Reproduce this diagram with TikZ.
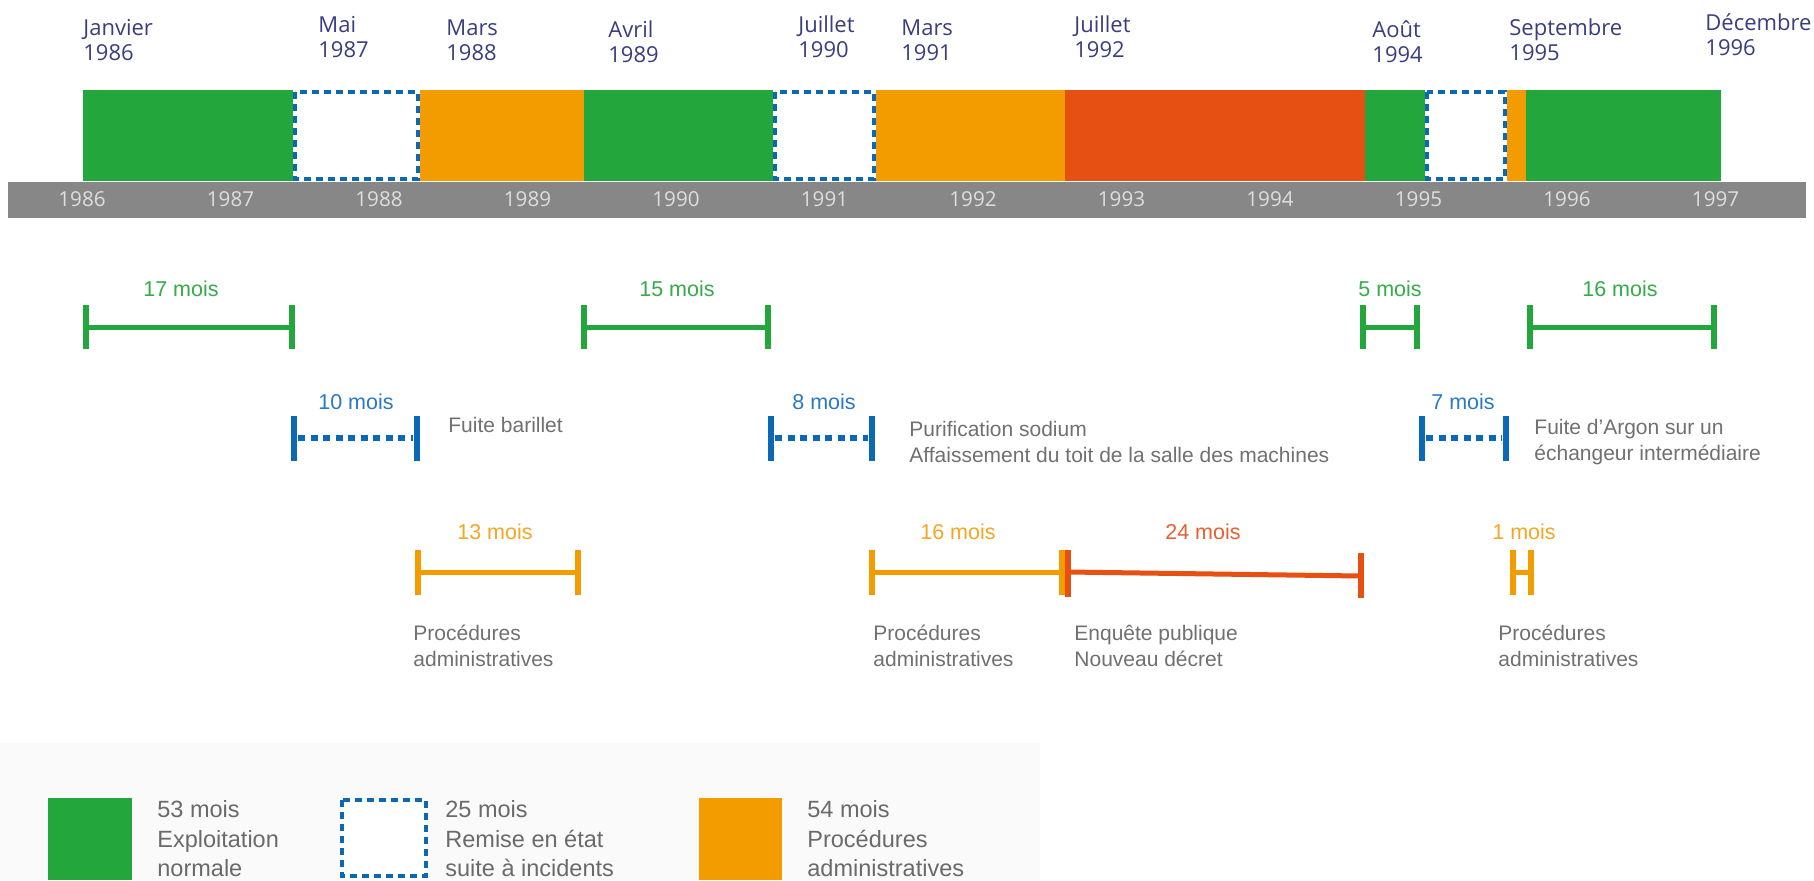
\documentclass[tikz,border=0pt]{standalone}
\usepackage{fontspec}
\setmainfont{Liberation Sans}
\newfontfamily\plexf{Open Sans}
\definecolor{cgreen}{RGB}{35,167,60}
\definecolor{corange}{RGB}{243,156,0}
\definecolor{cred}{RGB}{230,80,18}
\definecolor{cblue}{RGB}{10,104,180}
\definecolor{cband}{RGB}{135,135,135}
\definecolor{cyear}{RGB}{222,222,222}
\definecolor{cnavy}{RGB}{58,62,126}
\definecolor{cdesc}{RGB}{112,112,112}
\definecolor{cleg}{RGB}{106,106,106}
\definecolor{clegbg}{RGB}{250,250,250}
\definecolor{tgreen}{RGB}{52,172,72}
\definecolor{tblue}{RGB}{40,122,196}
\definecolor{torange}{RGB}{245,166,35}
\definecolor{tred}{RGB}{232,96,50}
\begin{document}
\begin{tikzpicture}[x=0.5pt,y=-0.5pt,
  toplab/.style={anchor=west, align=left, inner sep=0pt, text=cnavy, font=\plexf\fontsize{11}{12.5}\selectfont},
  yearlab/.style={inner sep=0pt, text=cyear, font=\plexf\fontsize{10.3}{12}\selectfont},
  moislab/.style={inner sep=0pt, font=\fontsize{10.75}{12}\selectfont},
  desc/.style={anchor=west, align=left, inner sep=0pt, text=cdesc, font=\fontsize{10.5}{13.25}\selectfont},
  legtext/.style={anchor=west, align=left, inner sep=0pt, text=cleg, font=\fontsize{11.75}{14.75}\selectfont},
  spanline/.style={line width=2.5pt},
  tickline/.style={line width=3pt},
  dotspan/.style={line width=3.25pt, draw=cblue, dash pattern=on 3.5pt off 2.75pt},
  dotbox/.style={draw=cblue, line width=2.25pt, dash pattern=on 3.5pt off 2.5pt, fill=white}
]
\useasboundingbox (0,0) rectangle (1814,880);
\fill[white] (0,0) rectangle (1814,880);

% ---------- top date labels ----------
\node[toplab] (d1)  at (83,40)   {Janvier\\1986};
\node[toplab] (d2)  at (318,37)  {Mai\\1987};
\node[toplab] (d3)  at (446,40)  {Mars\\1988};
\node[toplab] (d4)  at (608,42)  {Avril\\1989};
\node[toplab] (d5)  at (798,37)  {Juillet\\1990};
\node[toplab] (d6)  at (901,40)  {Mars\\1991};
\node[toplab] (d7)  at (1074,37) {Juillet\\1992};
\node[toplab] (d8)  at (1372,42) {Août\\1994};
\node[toplab] (d9)  at (1509,40) {Septembre\\1995};
\node[toplab] (d10) at (1705,35) {Décembre\\1996};

% ---------- timeline bar ----------
\fill[cgreen]  (83,90)   rectangle (293,181);
\draw[dotbox]  (295,92)  rectangle (418,179);
\fill[corange] (420,90)  rectangle (584,181);
\fill[cgreen]  (584,90)  rectangle (773,181);
\draw[dotbox]  (775,92)  rectangle (874,179);
\fill[corange] (876,90)  rectangle (1065,181);
\fill[cred]    (1065,90) rectangle (1365,181);
\fill[cgreen]  (1365,90) rectangle (1425,181);
\draw[dotbox]  (1427,92) rectangle (1505,179);
\fill[corange] (1507,90) rectangle (1526,181);
\fill[cgreen]  (1526,90) rectangle (1721,181);

% ---------- year band ----------
\fill[cband] (8,182) rectangle (1806,218);
\foreach \yr [count=\i from 0] in {1986,1987,1988,1989,1990,1991,1992,1993,1994,1995,1996,1997}
  \node[yearlab] (y\yr) at ({82+148.5*\i},199) {\yr};

% ---------- green spans ----------
\foreach \n/\a/\b in {g1/86/292, g2/584/768, g3/1363/1417, g4/1530/1714} {
  \coordinate (\n a) at (\a,327);
  \coordinate (\n b) at (\b,327);
  \draw[spanline, draw=cgreen] (\n a) -- (\n b);
  \draw[tickline, draw=cgreen] (\n a) ++(0,-22) -- ++(0,44);
  \draw[tickline, draw=cgreen] (\n b) ++(0,-22) -- ++(0,44);
}
\node[moislab, text=tgreen] (lg1) at (181,289)  {17 mois};
\node[moislab, text=tgreen] (lg2) at (677,289)  {15 mois};
\node[moislab, text=tgreen] (lg3) at (1390,289) {5 mois};
\node[moislab, text=tgreen] (lg4) at (1620,289) {16 mois};

% ---------- blue spans ----------
\foreach \n/\a/\b in {b1/294/417, b2/771/872, b3/1422/1506} {
  \coordinate (\n a) at (\a,438);
  \coordinate (\n b) at (\b,438);
  \draw[dotspan, shorten <=2pt, shorten >=2pt] (\n a) -- (\n b);
  \draw[tickline, draw=cblue] (\n a) ++(0,-22) -- ++(0,45);
  \draw[tickline, draw=cblue] (\n b) ++(0,-22) -- ++(0,45);
}
\node[moislab, text=tblue] (lb1) at (356,402)  {10 mois};
\node[moislab, text=tblue] (lb2) at (824,402)  {8 mois};
\node[moislab, text=tblue] (lb3) at (1463,402) {7 mois};

\node[desc] (t1) at (448,425) {Fuite barillet};
\node[desc] (t2) at (909,442) {Purification sodium\\Affaissement du toit de la salle des machines};
\node[desc] (t3) at (1534,442) {Fuite d'Argon sur un\\échangeur intermédiaire};

% ---------- orange / red spans ----------
\foreach \n/\a/\b in {o1/418/578, o2/872/1062, o3/1513/1531} {
  \coordinate (\n a) at (\a,572);
  \coordinate (\n b) at (\b,572);
  \draw[spanline, draw=corange] (\n a) -- (\n b);
  \draw[tickline, draw=corange] (\n a) ++(0,-22) -- ++(0,45);
  \draw[tickline, draw=corange] (\n b) ++(0,-22) -- ++(0,45);
}
\coordinate (ra) at (1068,572);
\coordinate (rb) at (1361,576);
\draw[spanline, draw=cred] (ra) -- (rb);
\draw[tickline, draw=cred] (ra) ++(0,-22) -- ++(0,47);
\draw[tickline, draw=cred] (rb) ++(0,-23) -- ++(0,45);

\node[moislab, text=torange] (lo1) at (495,532)  {13 mois};
\node[moislab, text=torange] (lo2) at (958,532)  {16 mois};
\node[moislab, text=tred]    (lr)  at (1203,532) {24 mois};
\node[moislab, text=torange] (lo3) at (1524,532) {1 mois};

\node[desc] (p1) at (413,646)  {Procédures\\administratives};
\node[desc] (p2) at (873,646)  {Procédures\\administratives};
\node[desc] (p3) at (1074,646) {Enquête publique\\Nouveau décret};
\node[desc] (p4) at (1498,646) {Procédures\\administratives};

% ---------- legend ----------
\fill[clegbg] (0,743) rectangle (1040,880);
\fill[cgreen] (48,798) rectangle (132,880);
\draw[dotbox] (342,800) rectangle (426,876);
\fill[corange] (699,798) rectangle (782,880);
\node[legtext] (k1) at (157,839) {53 mois\\Exploitation\\normale};
\node[legtext] (k2) at (445,839) {25 mois\\Remise en état\\suite à incidents};
\node[legtext] (k3) at (807,839) {54 mois\\Procédures\\administratives};
\end{tikzpicture}
\end{document}
